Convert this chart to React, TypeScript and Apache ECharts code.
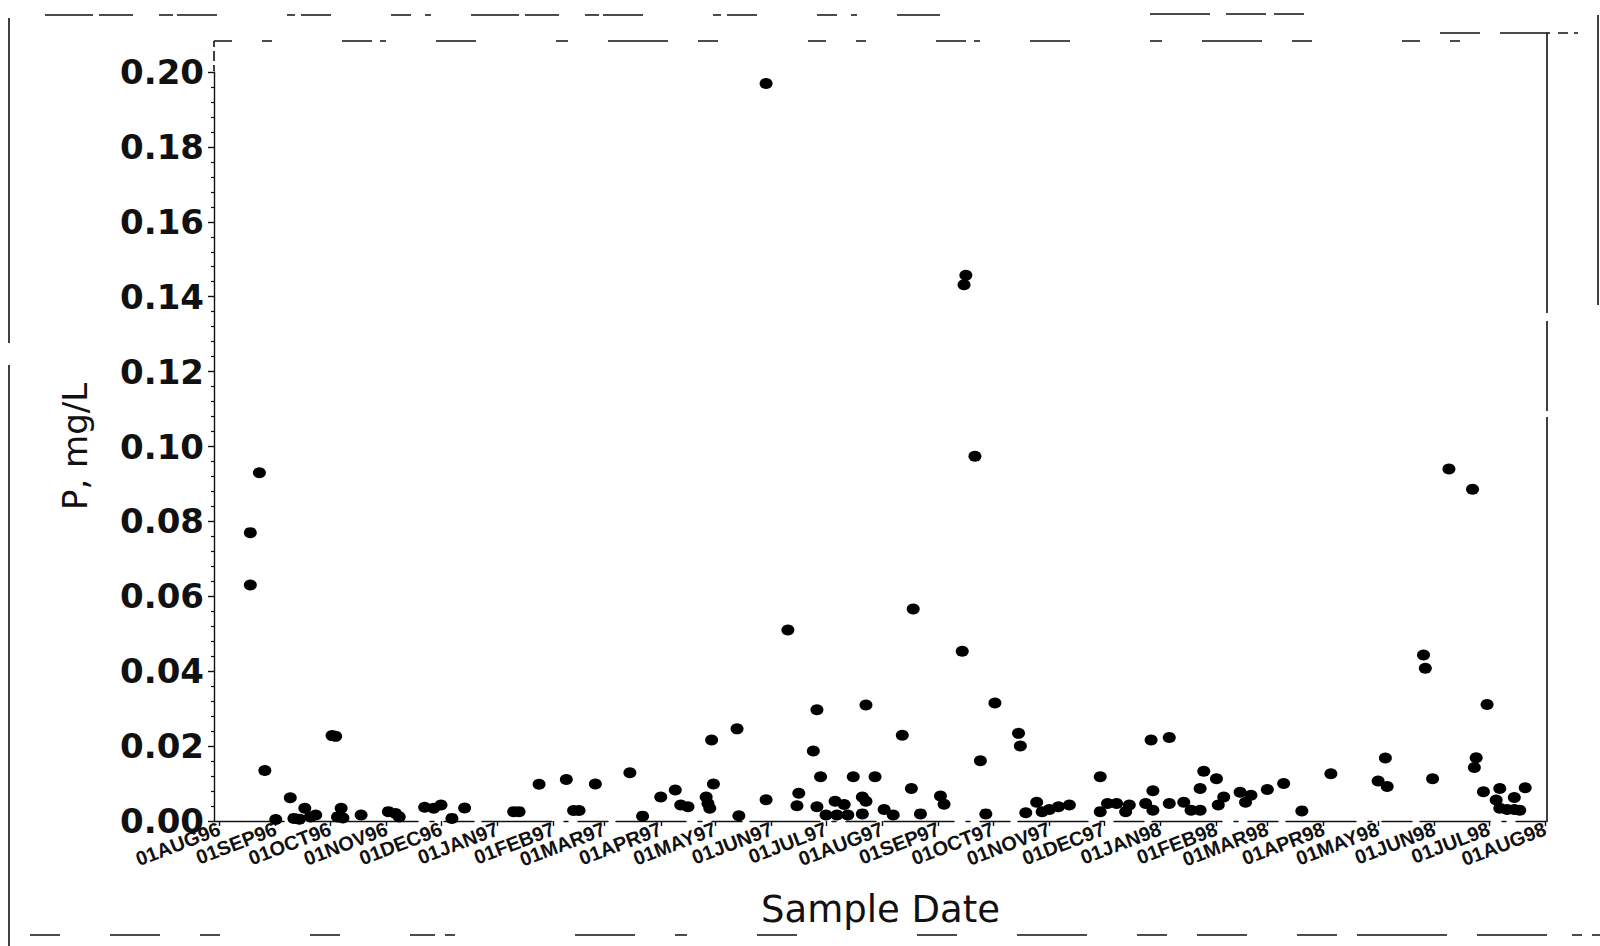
import React, { useEffect, useRef } from "react";
import * as echarts from "echarts";

// ---- data ----
const sampleDates: string[] = [
  "1996-08-18", "1996-08-18", "1996-08-23", "1996-08-26", "1996-09-01",
  "1996-09-09", "1996-09-11", "1996-09-14", "1996-09-17", "1996-09-20", "1996-09-23",
  "1996-10-02", "1996-10-04", "1996-10-05", "1996-10-07", "1996-10-08", "1996-10-18",
  "1996-11-02", "1996-11-06", "1996-11-08", "1996-11-22", "1996-11-27",
  "1996-12-01", "1996-12-07", "1996-12-14",
  "1997-01-10", "1997-01-13", "1997-01-24",
  "1997-02-08", "1997-02-12", "1997-02-15", "1997-02-24",
  "1997-03-15", "1997-03-22",
  "1997-04-01", "1997-04-09", "1997-04-12", "1997-04-16", "1997-04-26", "1997-04-27",
  "1997-04-28", "1997-04-29", "1997-04-30",
  "1997-05-13", "1997-05-14", "1997-05-29", "1997-05-29",
  "1997-06-10", "1997-06-15", "1997-06-16", "1997-06-24", "1997-06-26", "1997-06-28", "1997-06-26",
  "1997-07-01", "1997-07-06", "1997-07-07", "1997-07-11", "1997-07-13", "1997-07-16",
  "1997-07-21", "1997-07-23", "1997-07-21", "1997-07-23", "1997-07-28",
  "1997-08-02", "1997-08-07", "1997-08-12", "1997-08-17", "1997-08-18", "1997-08-22",
  "1997-09-02", "1997-09-04", "1997-09-14", "1997-09-15", "1997-09-16", "1997-09-21",
  "1997-09-24", "1997-09-27",
  "1997-10-02", "1997-10-15", "1997-10-16", "1997-10-19", "1997-10-25", "1997-10-28",
  "1997-11-01", "1997-11-06", "1997-11-12", "1997-11-29", "1997-11-29",
  "1997-12-03", "1997-12-08", "1997-12-13", "1997-12-15", "1997-12-24", "1997-12-27",
  "1997-12-28", "1997-12-28",
  "1998-01-06", "1998-01-06", "1998-01-14", "1998-01-18", "1998-01-23", "1998-01-23",
  "1998-01-25",
  "1998-02-01", "1998-02-02", "1998-02-05", "1998-02-14", "1998-02-17", "1998-02-20",
  "1998-03-01", "1998-03-10", "1998-03-20",
  "1998-04-05",
  "1998-05-01", "1998-05-06", "1998-05-05", "1998-05-26", "1998-05-27", "1998-05-31",
  "1998-06-09", "1998-06-22", "1998-06-30", "1998-06-24", "1998-06-23", "1998-06-28",
  "1998-07-07", "1998-07-15", "1998-07-21", "1998-07-05", "1998-07-07", "1998-07-11",
  "1998-07-15", "1998-07-18",
];

const pValues: number[] = [
  0.077, 0.063, 0.093, 0.0135, 0.0004,
  0.0062, 0.0007, 0.0005, 0.0034, 0.0011, 0.0016,
  0.0228, 0.0226, 0.0011, 0.0034, 0.0008, 0.0016,
  0.0025, 0.002, 0.0011, 0.0037, 0.0034,
  0.0043, 0.0007, 0.0035,
  0.0025, 0.0025, 0.0098,
  0.0111, 0.0028, 0.0028, 0.0099,
  0.0129, 0.0013,
  0.0064, 0.0083, 0.0043, 0.0038, 0.0064, 0.0047,
  0.0034, 0.0216, 0.0099,
  0.0246, 0.0014, 0.0057, 0.1969,
  0.051, 0.0041, 0.0074, 0.0187, 0.0297, 0.0118, 0.0038,
  0.0016, 0.0053, 0.0016, 0.0044, 0.0016, 0.0118,
  0.0064, 0.0053, 0.0019, 0.031, 0.0118,
  0.0031, 0.0016, 0.0229, 0.0087, 0.0566, 0.0019,
  0.0067, 0.0045, 0.0453, 0.1432, 0.1457, 0.0974,
  0.0161, 0.0019,
  0.0315, 0.0234, 0.02, 0.0022, 0.005, 0.0025,
  0.0031, 0.0038, 0.0043, 0.0118, 0.0025,
  0.0047, 0.0047, 0.0025, 0.0043, 0.0047, 0.0216,
  0.0081, 0.0029,
  0.0223, 0.0047, 0.005, 0.0029, 0.0029, 0.0087,
  0.0133,
  0.0113, 0.0043, 0.0064, 0.0077, 0.005, 0.0069,
  0.0084, 0.01, 0.0027,
  0.0126,
  0.0107, 0.0092, 0.0168, 0.0443, 0.0408, 0.0113,
  0.094, 0.0886, 0.0311, 0.0169, 0.0143, 0.0078,
  0.0087, 0.0063, 0.0089, 0.0056, 0.0034, 0.0031,
  0.0031, 0.0029,
];

const monthTicks: string[] = [
  "1996-08-01", "1996-09-01", "1996-10-01", "1996-11-01", "1996-12-01",
  "1997-01-01", "1997-02-01", "1997-03-01", "1997-04-01", "1997-05-01",
  "1997-06-01", "1997-07-01", "1997-08-01", "1997-09-01", "1997-10-01",
  "1997-11-01", "1997-12-01", "1998-01-01", "1998-02-01", "1998-03-01",
  "1998-04-01", "1998-05-01", "1998-06-01", "1998-07-01", "1998-08-01",
];

const monthNames: string[] = [
  "JAN", "FEB", "MAR", "APR", "MAY", "JUN", "JUL", "AUG", "SEP", "OCT", "NOV", "DEC",
];

const xMinDate = "1996-07-29";
const xMaxDate = "1998-08-02";
const yMin = 0;
const yMax = 0.2;
const yStep = 0.02;

function ts(s: string): number {
  const [y, m, d] = s.split("-").map(Number);
  return Date.UTC(y, m - 1, d);
}

function fmtDate(v: number): string {
  const d = new Date(v);
  return "01" + monthNames[d.getUTCMonth()] + String(d.getUTCFullYear()).slice(2);
}

const INK = "#111";

function scanLine(x1: number, y1: number, x2: number, y2: number, dash: number[] | null) {
  return {
    type: "line",
    silent: true,
    shape: { x1, y1, x2, y2 },
    style: { stroke: INK, lineWidth: 1.6, lineDash: dash || undefined },
  };
}

export default function App() {
  const ref = useRef<HTMLDivElement>(null);

  useEffect(() => {
    if (!ref.current) return;
    const chart = echarts.init(ref.current, undefined, { renderer: "svg" });
    const tickVals = monthTicks.map(ts);
    const points = sampleDates.map((d, i) => [ts(d), pValues[i]]);

    chart.setOption({
      animation: false,
      backgroundColor: "#ffffff",
      grid: { left: 214, right: 53, top: 72, bottom: 125, containLabel: false },
      xAxis: {
        type: "value",
        min: ts(xMinDate),
        max: ts(xMaxDate),
        name: "Sample Date",
        nameLocation: "middle",
        nameGap: 70,
        nameTextStyle: { fontFamily: "DejaVu Sans", fontSize: 37, color: INK },
        splitLine: { show: false },
        axisLine: { show: true, lineStyle: { color: INK, width: 1.4, type: [70, 12, 4, 10, 30, 8] } },
        axisTick: { show: true, length: 5, customValues: tickVals, lineStyle: { color: INK, width: 1.4 } },
        axisLabel: {
          customValues: tickVals,
          formatter: (v: number) => fmtDate(v),
          rotate: 21,
          margin: 7,
          showMinLabel: true,
          showMaxLabel: true,
          hideOverlap: false,
          fontFamily: "Liberation Sans",
          fontWeight: "bold",
          fontSize: 20,
          color: INK,
        },
      },
      yAxis: {
        type: "value",
        min: yMin,
        max: yMax,
        interval: yStep,
        name: "P, mg/L",
        nameLocation: "middle",
        nameGap: 122,
        nameTextStyle: { fontFamily: "DejaVu Sans", fontSize: 34, color: INK },
        splitLine: { show: false },
        axisLine: { show: true, lineStyle: { color: INK, width: 1.4 } },
        axisTick: { show: true, length: 6, lineStyle: { color: INK, width: 1.4 } },
        minorTick: { show: true, splitNumber: 5, length: 3, lineStyle: { color: INK, width: 1.2 } },
        axisLabel: {
          formatter: (v: number) => v.toFixed(2),
          margin: 10,
          showMinLabel: true,
          showMaxLabel: true,
          fontFamily: "DejaVu Sans",
          fontWeight: "bold",
          fontSize: 34,
          color: INK,
        },
      },
      series: [
        {
          type: "scatter",
          data: points,
          symbol: "circle",
          symbolSize: [13, 11],
          itemStyle: { color: "#000", opacity: 1 },
        },
      ],
      graphic: [
        // scanned-frame fragments
        scanLine(9, 18, 9, 946, [325, 22, 1000]),
        scanLine(45, 15, 940, 15, [48, 6, 34, 26, 14, 4, 40, 70, 8, 6, 30, 60, 20, 14, 6, 40]),
        scanLine(1150, 14, 1330, 14, [60, 16, 40, 8, 30, 30]),
        scanLine(1440, 33, 1595, 33, [40, 20, 50, 8, 10, 6, 4, 20]),
        scanLine(214, 41, 1460, 41, [18, 30, 10, 70, 30, 8, 6, 50, 40, 80, 12, 40, 60, 30, 20, 90]),
        scanLine(214, 41, 214, 72, [6, 4, 10, 4]),
        scanLine(1547, 33, 1547, 822, [280, 8, 90, 6, 410]),
        scanLine(1598, 15, 1598, 305, null),
        scanLine(30, 935, 1600, 935, [30, 50, 50, 40, 20, 90, 30, 70, 25, 10, 10, 120, 60, 40, 12, 70, 40, 120, 40, 60, 70, 50, 30]),
      ],
    });

    return () => chart.dispose();
  }, []);

  return (
    <div
      ref={ref}
      style={{ position: "absolute", left: 0, top: 0, width: 1600, height: 946, background: "#fff" }}
    />
  );
}
